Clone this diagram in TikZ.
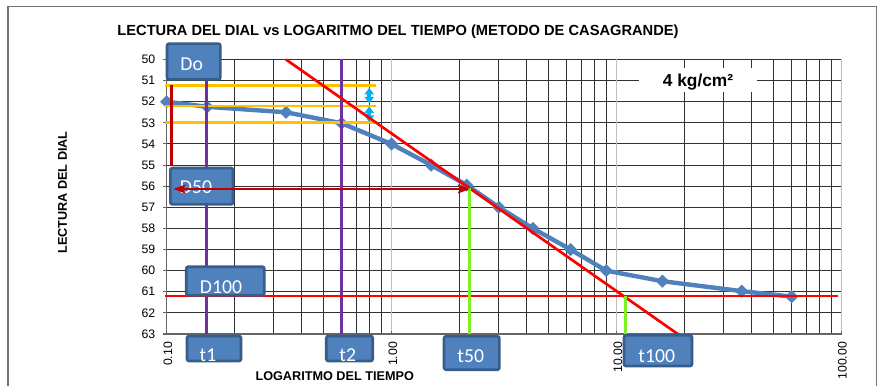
\documentclass[tikz,border=0pt]{standalone}
\usepackage{fontspec}
\setmainfont{Liberation Sans}
\newfontfamily\boxfont{Carlito}
\usetikzlibrary{arrows.meta,shapes.geometric}
\definecolor{boxblue}{HTML}{4F81BD}
\definecolor{boxedge}{HTML}{385D8A}
\definecolor{tpurple}{HTML}{7030A0}
\definecolor{dred}{HTML}{C00000}
\definecolor{gold}{HTML}{FFC000}
\definecolor{skyblue}{HTML}{00B0F0}
\definecolor{lime}{HTML}{80F020}
\begin{document}
\begin{tikzpicture}[x=0.75pt, y=-0.75pt,
    gridline/.style={black!80, line width=0.75pt},
    tbox/.style={draw=boxedge, fill=boxblue, line width=2pt, rounded corners=1.5pt, inner sep=0pt},
    tlab/.style={text=white, font=\boxfont\fontsize{14.8}{16}\selectfont, inner sep=0pt},
    ticklab/.style={font=\fontsize{9.2}{10}\selectfont, inner sep=0pt},
    dmark/.style={diamond, fill=boxblue, inner sep=0pt, minimum size=10pt}]
\useasboundingbox (0,0) rectangle (880,385);
\fill[white] (0,0) rectangle (880,385);
\draw[black!55, line width=0.8pt] (8,6.7) rectangle (876.7,390);

% plot area: x = log10(t)+1, y = dial - 50
\begin{scope}[shift={(124.875pt,-44.625pt)}, x=168.75pt, y=-15.836pt]
    \foreach \y in {0,...,12} \draw[gridline] (0,\y) -- (3,\y);
    \foreach \d in {0,1,2}
        \foreach \m in {2,...,9}
            \draw[gridline] ({\d+log10(\m)},0) -- ({\d+log10(\m)},13);
    \foreach \d in {1,2,3} \draw[black!25, line width=0.8pt] (\d,0) -- (\d,13);
    \draw[black!60, line width=0.8pt] (0,0) -- (0,13) -- (3,13);
    \foreach \y in {0,...,13} \draw[black!60, line width=0.8pt] (0,\y) -- ++(-2.6pt,0);
    \foreach \x in {0,...,3} \draw[black!60, line width=0.8pt] (\x,13) -- ++(0,2.6pt);

    % dial readings
    \foreach \t/\d [count=\i] in {0.1/52, 0.15/52.24, 0.34/52.5, 0.6/53.02, 1/54,
        1.5/55, 2.16/55.95, 3/57, 4.25/58, 6.25/59, 9/60, 16/60.5, 36/60.97, 60/61.23}
        \coordinate (p\i) at ({log10(\t)+1},\d-50);
    \draw[boxblue, line width=3.3pt, line join=round] (p1) \foreach \i in {2,...,14} { -- (p\i) };
    \foreach \i in {1,...,14} \node[dmark] (m\i) at (p\i) {};

    % construction
    \draw[gold, line width=2pt] (-0.005,1.222) -- (0.93,1.222);
    \draw[gold, line width=2pt] (-0.005,2.202) -- (0.93,2.202);
    \draw[gold, line width=2pt] (-0.005,2.974) -- (0.93,2.974);
    \draw[skyblue, line width=3pt, {Triangle[width=7pt,length=5pt]}-{Triangle[width=7pt,length=5pt]}]
        (0.901,1.34) -- (0.901,2.08);
    \draw[skyblue, line width=3pt, {Triangle[width=7pt,length=5pt]}-{Triangle[width=7pt,length=5pt]}]
        (0.901,2.22) -- (0.901,2.96);
    \draw[tpurple, line width=2.2pt] ({log10(1.5)},0) -- ({log10(1.5)},13);
    \draw[tpurple, line width=2.2pt] ({log10(6)},0) -- ({log10(6)},13);
    \draw[dred, line width=2.2pt] (0.0213,1.222) -- (0.0213,5.04);
    \draw[red, line width=2pt] (0.531,0) -- (2.272,13);
    \draw[red, line width=2pt] (-0.007,11.2) -- (2.984,11.2);
    \draw[lime, line width=2pt] (1.346,6.1) -- (1.346,13);
    \draw[lime, line width=2pt] (2.041,11.2) -- (2.041,13);
\end{scope}

% axis labels
\foreach \y [evaluate=\y as \v using int(50+\y)] in {0,...,13}
    \node[ticklab, anchor=east] (yl\v) at (155.5,{59.5+21.115*\y}) {\v};
\node[ticklab, rotate=90, anchor=east] (xl0) at (167.8,341.7) {0.10};
\node[ticklab, rotate=90, anchor=east] (xl1) at (392.8,341.7) {1.00};
\node[ticklab, rotate=90, anchor=east] (xl2) at (617.8,341.7) {10.00};
\node[ticklab, rotate=90, anchor=east] (xl3) at (842.3,341.7) {100.00};
\node[font=\bfseries\fontsize{11}{13}\selectfont, anchor=base] (title) at (398,36) {LECTURA DEL DIAL vs LOGARITMO DEL TIEMPO (METODO DE CASAGRANDE)};
\node[font=\bfseries\fontsize{9.5}{11}\selectfont, rotate=90] (ylab) at (62.5,192.5) {LECTURA DEL DIAL};
\node[font=\bfseries\fontsize{9.5}{11}\selectfont, anchor=base] (xlab) at (334.7,380.2) {LOGARITMO DEL TIEMPO};
\fill[white] (639.3,68) rectangle (756.7,92);
\node[font=\bfseries\fontsize{13}{15}\selectfont, anchor=base] (load) at (698,86) {4 kg/cm²};

% text boxes
\node[tbox, minimum width=40pt, minimum height=26.8pt] (Do) at (193.7,61.5) {};
\node[tlab] at (191.7,64.3) {Do};
\node[tbox, minimum width=47pt, minimum height=27.2pt] (D50) at (201.7,186.2) {};
\node[tlab] at (196,187.3) {D50};
\node[tbox, minimum width=58.5pt, minimum height=21.5pt] (D100) at (225.3,281) {};
\node[tlab] at (221,286.7) {D100};
\node[tbox, minimum width=40.5pt, minimum height=18.7pt] (t1) at (214,348.5) {};
\node[tlab] at (208,355) {t1};
\node[tbox, minimum width=34.8pt, minimum height=18.7pt] (t2) at (349.5,348.5) {};
\node[tlab] at (347.7,355) {t2};
\node[tbox, minimum width=41.5pt, minimum height=25pt] (t50) at (471.7,353) {};
\node[tlab] at (470.7,355.7) {t50};
\node[tbox, minimum width=51pt, minimum height=23pt] (t100) at (658,350.7) {};
\node[tlab] at (656.7,355.7) {t100};

\draw[dred, line width=2pt, {Stealth[length=9pt,width=6.5pt,inset=1.5pt]}-{Stealth[length=9pt,width=6.5pt,inset=1.5pt]}]
    (173.3,189) -- (470,189);
\end{tikzpicture}
\end{document}
